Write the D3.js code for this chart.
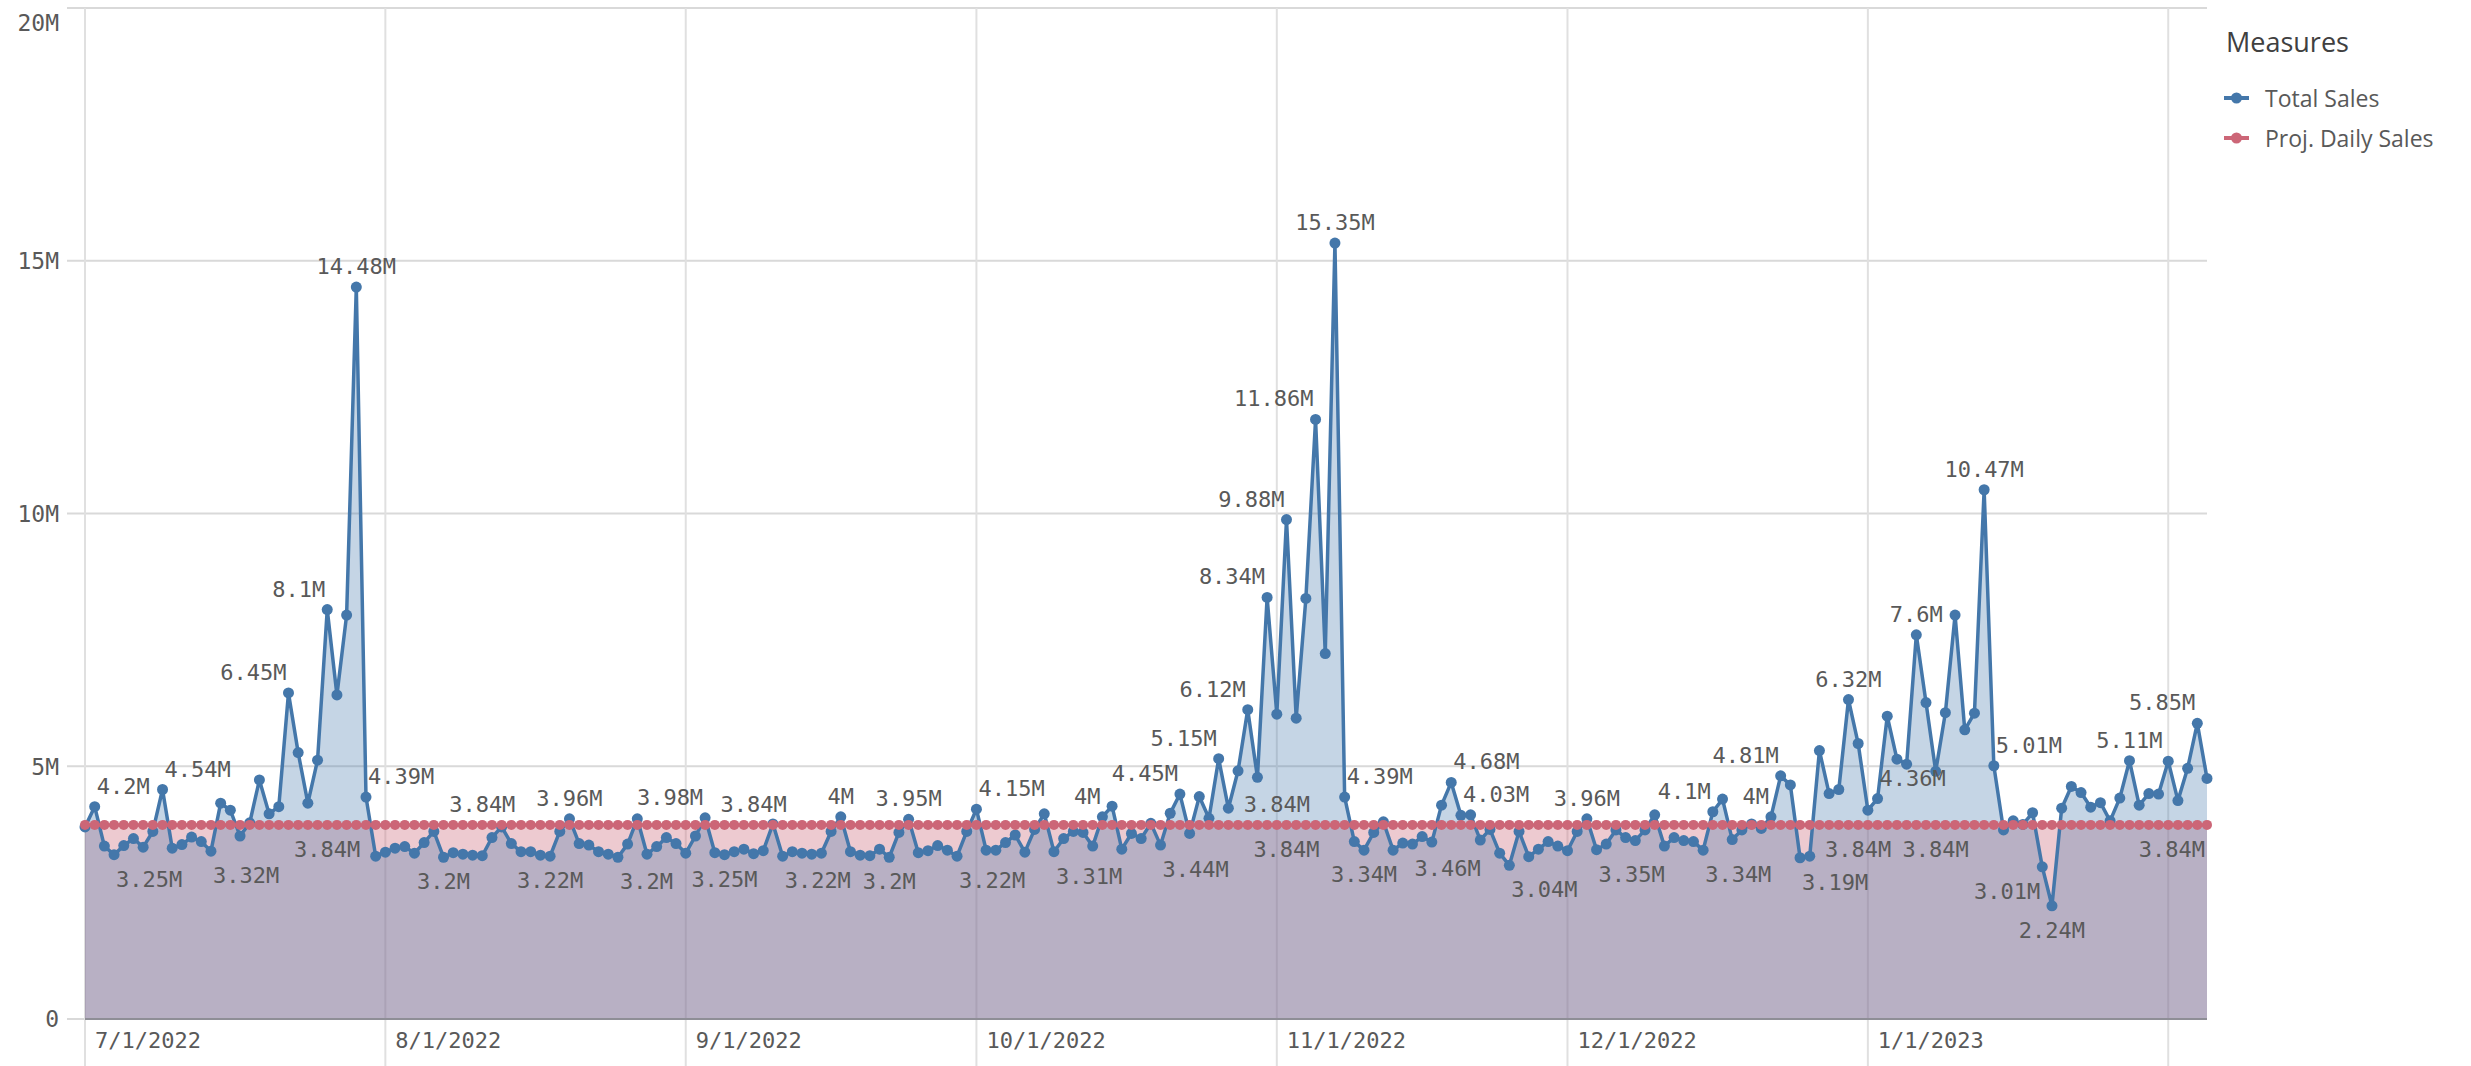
<!DOCTYPE html>
<html>
<head>
<meta charset="utf-8">
<script src="https://cdn.jsdelivr.net/npm/d3@7"></script>
<style>
  body { margin: 0; background: #fff; }
  .mono { font-family: "DejaVu Sans Mono", monospace; }
  .sans { font-family: "Open Sans", sans-serif; }
</style>
</head>
<body>
<div id="chart"></div>
<script>
// daily values in millions, starting 7/1/2022
var startDate = "2022-07-01";

var totalSales = [
  3.80, 4.20, 3.42, 3.25, 3.43, 3.57, 3.40, 3.71, 4.54, 3.38,
  3.45, 3.60, 3.51, 3.32, 4.27, 4.13, 3.62, 3.88, 4.73, 4.06,
  4.20, 6.45, 5.27, 4.27, 5.12, 8.10, 6.41, 7.99, 14.48, 4.39,
  3.22, 3.30, 3.38, 3.41, 3.28, 3.49, 3.71, 3.20, 3.29, 3.26,
  3.24, 3.23, 3.59, 3.80, 3.47, 3.31, 3.31, 3.24, 3.22, 3.71,
  3.96, 3.47, 3.44, 3.31, 3.26, 3.20, 3.46, 3.96, 3.26, 3.41,
  3.59, 3.47, 3.28, 3.62, 3.98, 3.29, 3.25, 3.31, 3.36, 3.27,
  3.33, 3.86, 3.22, 3.31, 3.28, 3.26, 3.28, 3.71, 4.00, 3.31,
  3.24, 3.23, 3.36, 3.20, 3.69, 3.95, 3.29, 3.33, 3.43, 3.34,
  3.22, 3.71, 4.15, 3.34, 3.34, 3.49, 3.64, 3.30, 3.75, 4.06,
  3.31, 3.57, 3.71, 3.69, 3.42, 4.00, 4.21, 3.36, 3.67, 3.57,
  3.87, 3.44, 4.07, 4.45, 3.67, 4.40, 3.97, 5.15, 4.17, 4.91,
  6.12, 4.78, 8.34, 6.03, 9.88, 5.95, 8.32, 11.86, 7.23, 15.35,
  4.39, 3.51, 3.34, 3.69, 3.90, 3.34, 3.48, 3.46, 3.61, 3.50,
  4.23, 4.68, 4.03, 4.04, 3.54, 3.75, 3.28, 3.04, 3.71, 3.21,
  3.36, 3.51, 3.42, 3.33, 3.71, 3.96, 3.35, 3.46, 3.74, 3.59,
  3.53, 3.74, 4.04, 3.42, 3.59, 3.53, 3.51, 3.34, 4.10, 4.35,
  3.55, 3.74, 3.86, 3.77, 4.00, 4.81, 4.63, 3.19, 3.22, 5.31,
  4.46, 4.54, 6.32, 5.45, 4.13, 4.36, 5.99, 5.14, 5.04, 7.60,
  6.26, 4.90, 6.06, 7.99, 5.72, 6.05, 10.47, 5.01, 3.74, 3.92,
  3.85, 4.08, 3.01, 2.24, 4.17, 4.60, 4.48, 4.19, 4.28, 3.92,
  4.37, 5.11, 4.23, 4.46, 4.45, 5.10, 4.32, 4.96, 5.85, 4.76
];

// projected daily sales is a flat target
var projDailySales = 3.84;

var seriesNames = ["Total Sales", "Proj. Daily Sales"];
var yTicks = [0, 5, 10, 15, 20];
var yTickLabels = ["0", "5M", "10M", "15M", "20M"];
var xTickLabels = ["7/1/2022", "8/1/2022", "9/1/2022", "10/1/2022", "11/1/2022",
                   "12/1/2022", "1/1/2023", "2/1/2023"];

// which points carry a value label: [day, series (0 total, 1 proj), above?, anchor]
var pointLabels = [
  [1, 0, 1, "start"], [3, 0, 0, "start"], [8, 0, 1, "start"], [13, 0, 0, "start"],
  [21, 0, 1, "end"], [25, 0, 1, "end"], [28, 0, 1, "middle"], [29, 0, 1, "start"],
  [25, 1, 0, "middle"], [37, 0, 0, "middle"], [41, 1, 1, "middle"], [50, 0, 1, "middle"],
  [48, 0, 0, "middle"], [64, 0, 1, "end"], [55, 0, 0, "start"], [66, 0, 0, "middle"],
  [69, 1, 1, "middle"], [78, 0, 1, "middle"], [72, 0, 0, "start"], [85, 0, 1, "middle"],
  [83, 0, 0, "middle"], [90, 0, 0, "start"], [92, 0, 1, "start"], [105, 0, 1, "end"],
  [100, 0, 0, "start"], [113, 0, 1, "end"], [111, 0, 0, "start"], [117, 0, 1, "end"],
  [120, 0, 1, "end"], [122, 0, 1, "end"], [124, 0, 1, "end"], [127, 0, 1, "end"],
  [129, 0, 1, "middle"], [123, 1, 1, "middle"], [124, 1, 0, "middle"], [130, 0, 1, "start"],
  [132, 0, 0, "middle"], [141, 0, 1, "start"], [142, 0, 1, "start"], [137, 0, 0, "start"],
  [147, 0, 0, "start"], [155, 0, 1, "middle"], [156, 0, 0, "start"], [168, 0, 1, "end"],
  [167, 0, 0, "start"], [174, 0, 1, "end"], [175, 0, 1, "end"], [177, 0, 0, "start"],
  [183, 1, 0, "middle"], [182, 0, 1, "middle"], [185, 0, 1, "start"], [191, 1, 0, "middle"],
  [189, 0, 1, "middle"], [196, 0, 1, "middle"], [197, 0, 1, "start"], [202, 0, 0, "end"],
  [203, 0, 0, "middle"], [211, 0, 1, "middle"], [218, 0, 1, "end"], [219, 1, 0, "end"]
];

var svgWidth = 2471;
var svgHeight = 1066;

var margin = { top: 8, right: 264, bottom: 47, left: 85 };
var width = svgWidth - margin.left - margin.right;
var height = svgHeight - margin.top - margin.bottom;

var blue = "#4477aa";
var red = "#cc6677";

var parseDay = d3.timeParse("%Y-%m-%d");
var parseTick = d3.timeParse("%m/%d/%Y");
var day0 = parseDay(startDate);

var data = totalSales.map(function(v, i) {
  return { date: d3.timeDay.offset(day0, i), total: v, proj: projDailySales };
});

var svg = d3.select("#chart")
  .append("svg")
  .attr("width", svgWidth)
  .attr("height", svgHeight);

var chartGroup = svg.append("g")
  .attr("transform", `translate(${margin.left}, ${margin.top})`);

// scales
var xScale = d3.scaleTime()
  .domain(d3.extent(data, d => d.date))
  .range([0, width]);

var yScale = d3.scaleLinear()
  .domain([0, 20])
  .range([height, 0]);

// horizontal grid + y labels
yTicks.forEach(function(t, i) {
  var yy = yScale(t);
  chartGroup.append("line")
    .attr("x1", -18).attr("x2", width)
    .attr("y1", yy).attr("y2", yy)
    .attr("stroke", "#d9d9d9")
    .attr("stroke-width", 2);
  chartGroup.append("text")
    .attr("class", "mono")
    .attr("x", -26)
    .attr("y", Math.max(yy, 15))
    .attr("dy", "0.36em")
    .attr("text-anchor", "end")
    .attr("font-size", 23)
    .attr("fill", "#595959")
    .text(yTickLabels[i]);
});

// vertical grid at month starts
var xTicks = xTickLabels.map(parseTick);
xTicks.forEach(function(t, i) {
  var xx = xScale(t);
  chartGroup.append("line")
    .attr("x1", xx).attr("x2", xx)
    .attr("y1", 0).attr("y2", svgHeight - margin.top)
    .attr("stroke", "#e0e0e0")
    .attr("stroke-width", 2);
  // label only if it fits inside the plot
  if (xx + 110 < width) {
    chartGroup.append("text")
      .attr("class", "mono")
      .attr("x", xx + 10)
      .attr("y", height + 29)
      .attr("font-size", 22)
      .attr("fill", "#595959")
      .text(xTickLabels[i]);
  }
});

// areas
var projArea = d3.area()
  .x(d => xScale(d.date))
  .y0(yScale(0))
  .y1(d => yScale(d.proj));

var totalArea = d3.area()
  .x(d => xScale(d.date))
  .y0(yScale(0))
  .y1(d => yScale(d.total));

chartGroup.append("path")
  .datum(data)
  .attr("d", projArea)
  .attr("fill", red)
  .attr("fill-opacity", 0.35);

chartGroup.append("path")
  .datum(data)
  .attr("d", totalArea)
  .attr("fill", blue)
  .attr("fill-opacity", 0.31);

// x axis line
chartGroup.append("line")
  .attr("x1", 0).attr("x2", width)
  .attr("y1", height).attr("y2", height)
  .attr("stroke", "#8e8e96")
  .attr("stroke-width", 2);

// total sales line + dots
var totalLine = d3.line()
  .x(d => xScale(d.date))
  .y(d => yScale(d.total));

chartGroup.append("path")
  .datum(data)
  .attr("d", totalLine)
  .attr("fill", "none")
  .attr("stroke", blue)
  .attr("stroke-width", 3.5)
  .attr("stroke-linejoin", "round");

chartGroup.selectAll(".dotTotal")
  .data(data)
  .enter()
  .append("circle")
  .attr("class", "dotTotal")
  .attr("cx", d => xScale(d.date))
  .attr("cy", d => yScale(d.total))
  .attr("r", 5.5)
  .attr("fill", blue);

// projected line + dots (drawn on top)
var projLine = d3.line()
  .x(d => xScale(d.date))
  .y(d => yScale(d.proj));

chartGroup.append("path")
  .datum(data)
  .attr("d", projLine)
  .attr("fill", "none")
  .attr("stroke", red)
  .attr("stroke-width", 3.5);

chartGroup.selectAll(".dotProj")
  .data(data)
  .enter()
  .append("circle")
  .attr("class", "dotProj")
  .attr("cx", d => xScale(d.date))
  .attr("cy", d => yScale(d.proj))
  .attr("r", 5)
  .attr("fill", red);

// value labels
var fmt = v => (+v.toFixed(2)) + "M";

chartGroup.selectAll(".valueLabel")
  .data(pointLabels)
  .enter()
  .append("text")
  .attr("class", "valueLabel mono")
  .attr("x", function(l) {
    var xx = xScale(data[l[0]].date);
    if (l[3] === "start") return xx + 2;
    if (l[3] === "end") return xx - 2;
    return xx;
  })
  .attr("y", function(l) {
    var d = data[l[0]];
    var yy = yScale(l[1] === 0 ? d.total : d.proj);
    return l[2] ? yy - 13 : yy + 32;
  })
  .attr("text-anchor", l => l[3])
  .attr("font-size", 22)
  .attr("fill", "#595959")
  .text(function(l) {
    var d = data[l[0]];
    return fmt(l[1] === 0 ? d.total : d.proj);
  });

// legend
var legend = svg.append("g")
  .attr("transform", "translate(2224, 0)");

legend.append("text")
  .attr("class", "sans")
  .attr("x", 2)
  .attr("y", 52)
  .attr("font-size", 27)
  .attr("fill", "#404040")
  .text("Measures");

[blue, red].forEach(function(c, i) {
  var ly = 98 + i * 40;
  legend.append("line")
    .attr("x1", 0).attr("x2", 25)
    .attr("y1", ly).attr("y2", ly)
    .attr("stroke", c)
    .attr("stroke-width", 4);
  legend.append("circle")
    .attr("cx", 12.5)
    .attr("cy", ly)
    .attr("r", 5.5)
    .attr("fill", c);
  legend.append("text")
    .attr("class", "sans")
    .attr("x", 41)
    .attr("y", ly + 9)
    .attr("font-size", 23)
    .attr("fill", "#595959")
    .text(seriesNames[i]);
});
</script>
</body>
</html>
